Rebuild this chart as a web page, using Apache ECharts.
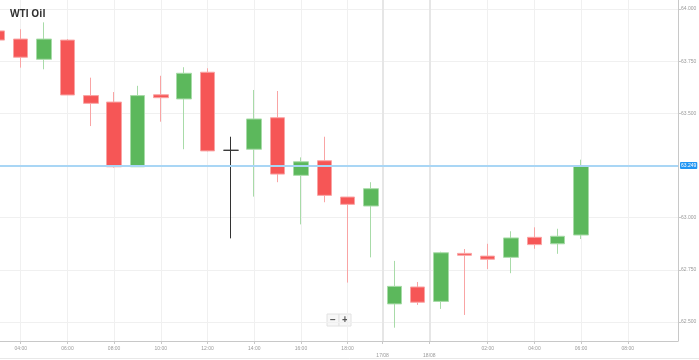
<!DOCTYPE html>
<html>
<head>
<meta charset="utf-8">
<script src="https://cdn.jsdelivr.net/npm/echarts@6/dist/echarts.min.js"></script>
<style>html,body{margin:0;padding:0;background:#fff;}#c{width:699px;height:360px;}</style>
</head>
<body>
<div id="c"></div>
<script>
// hourly candle index (0 = 04:00)
var candleIndex = [-1,0,1,2,3,4,5,6,7,8,9,10,11,12,13,14,15,16,17,18,19,20,21,22,23,24];
var opens  = [63.895,63.856,63.759,63.851,63.585,63.554,63.244,63.589,63.569,63.697,63.323,63.328,63.479,63.203,63.273,63.099,63.056,62.587,62.668,62.599,62.829,62.816,62.810,62.906,62.875,62.917];
var closes = [63.851,63.769,63.856,63.588,63.548,63.244,63.585,63.575,63.692,63.320,63.323,63.473,63.209,63.268,63.107,63.064,63.139,62.671,62.595,62.832,62.820,62.801,62.903,62.871,62.911,63.249];
var lows   = [63.845,63.719,63.711,63.588,63.439,63.240,63.244,63.460,63.328,63.318,62.901,63.101,63.170,62.968,63.074,62.689,62.810,62.473,62.582,62.563,62.534,62.754,62.734,62.851,62.827,62.898];
var highs  = [63.900,63.903,63.936,63.856,63.671,63.602,63.632,63.680,63.721,63.716,63.388,63.612,63.607,63.289,63.388,63.099,63.170,62.793,62.692,62.837,62.850,62.875,62.935,62.954,62.947,63.278];

var xTickValues = [0,2,4,6,8,10,12,14,15.5,17.5,20,22,24,26];
var xTickLabels = ['04:00','06:00','08:00','10:00','12:00','14:00','16:00','18:00','17/08','18/08','02:00','04:00','06:00','08:00'];
var daySeparators = [15.5,17.5];
var yTickValues = [62.5,62.75,63.0,63.5,63.75,64.0];
var lastPrice = 63.249;

var data = candleIndex.map(function(x,i){return [x, opens[i], closes[i], lows[i], highs[i]];});

var chart = echarts.init(document.getElementById('c'), null, {renderer:'canvas'});
var labelFont = 'Liberation Sans, Arial, sans-serif';
chart.setOption({
  animation:false,
  backgroundColor:'#fff',
  title:{text:'WTI Oil', left:5, top:4, textStyle:{fontSize:10, fontWeight:'bold', color:'#333', fontFamily:'Open Sans, Liberation Sans, sans-serif'}},
  grid:{left:0, right:21, top:0, bottom:19, containLabel:false, outerBoundsMode:'none'},
  xAxis:{
    type:'value', min:-0.887, max:28.15,
    axisLine:{show:true, onZero:false, lineStyle:{color:'#c8c8c8', width:1}},
    axisTick:{show:true, length:3, lineStyle:{color:'#c8c8c8'}, customValues:xTickValues},
    axisLabel:{show:true, fontSize:5, color:'#9a9a9a', margin:4, fontFamily:labelFont, lineHeight:7,
      customValues:xTickValues,
      formatter:function(v){var i=xTickValues.indexOf(v); var t=i>=0?xTickLabels[i]:''; return t.indexOf('/')>=0?('\n'+t):t;}},
    splitLine:{show:true, lineStyle:{color:'#f0f0f0', width:1}}
  },
  yAxis:{
    type:'value', position:'right', min:62.4092, max:64.0431, scale:true,
    axisLine:{show:true, onZero:false, lineStyle:{color:'#c8c8c8', width:1}},
    axisTick:{show:true, length:3, lineStyle:{color:'#c8c8c8'}, customValues:yTickValues},
    axisLabel:{show:true, fontSize:5, color:'#9a9a9a', margin:3, fontFamily:labelFont,
      customValues:yTickValues, formatter:function(v){return v.toFixed(3);}},
    splitLine:{show:true, lineStyle:{color:'#f0f0f0', width:1}}
  },
  series:[{
    type:'candlestick',
    data:data,
    encode:{x:0, y:[1,2,3,4]},
    barWidth:15,
    clip:true,
    itemStyle:{
      color:'#5cb85c', color0:'#f65656',
      borderColor:'#a8dba8', borderColor0:'#f9a4a4',
      borderColorDoji:'#333', borderWidth:1
    },
    markLine:{
      silent:true, symbol:'none', animation:false,
      data:[
        {xAxis:daySeparators[0], lineStyle:{color:'#e6e6e6', width:2, type:'solid'}, label:{show:false}},
        {xAxis:daySeparators[1], lineStyle:{color:'#e6e6e6', width:2, type:'solid'}, label:{show:false}},
        {yAxis:lastPrice, lineStyle:{color:'#a9d6f5', width:2, type:'solid'},
          label:{show:true, position:'end', distance:2, formatter:lastPrice.toFixed(3), color:'#fff',
            backgroundColor:'#2196f3', fontSize:5, padding:[1,1,1,1], borderRadius:1, fontFamily:labelFont}}
      ]
    }
  }],
  graphic:[
    {type:'line', shape:{x1:0,y1:358.5,x2:699,y2:358.5}, style:{stroke:'#e8e8e8', lineWidth:1}},
    {type:'rect', shape:{x:327,y:314,width:12,height:12}, style:{fill:'#f7f7f7', stroke:'#e2e2e2', lineWidth:1}},
    {type:'rect', shape:{x:339,y:314,width:12,height:12}, style:{fill:'#f7f7f7', stroke:'#e2e2e2', lineWidth:1}},
    {type:'text', x:333, y:320, style:{text:'−', fontSize:10, fontWeight:'bold', fill:'#555', align:'center', verticalAlign:'middle', fontFamily:labelFont}},
    {type:'text', x:345, y:320, style:{text:'+', fontSize:10, fontWeight:'bold', fill:'#555', align:'center', verticalAlign:'middle', fontFamily:labelFont}}
  ]
});
</script>
</body>
</html>
